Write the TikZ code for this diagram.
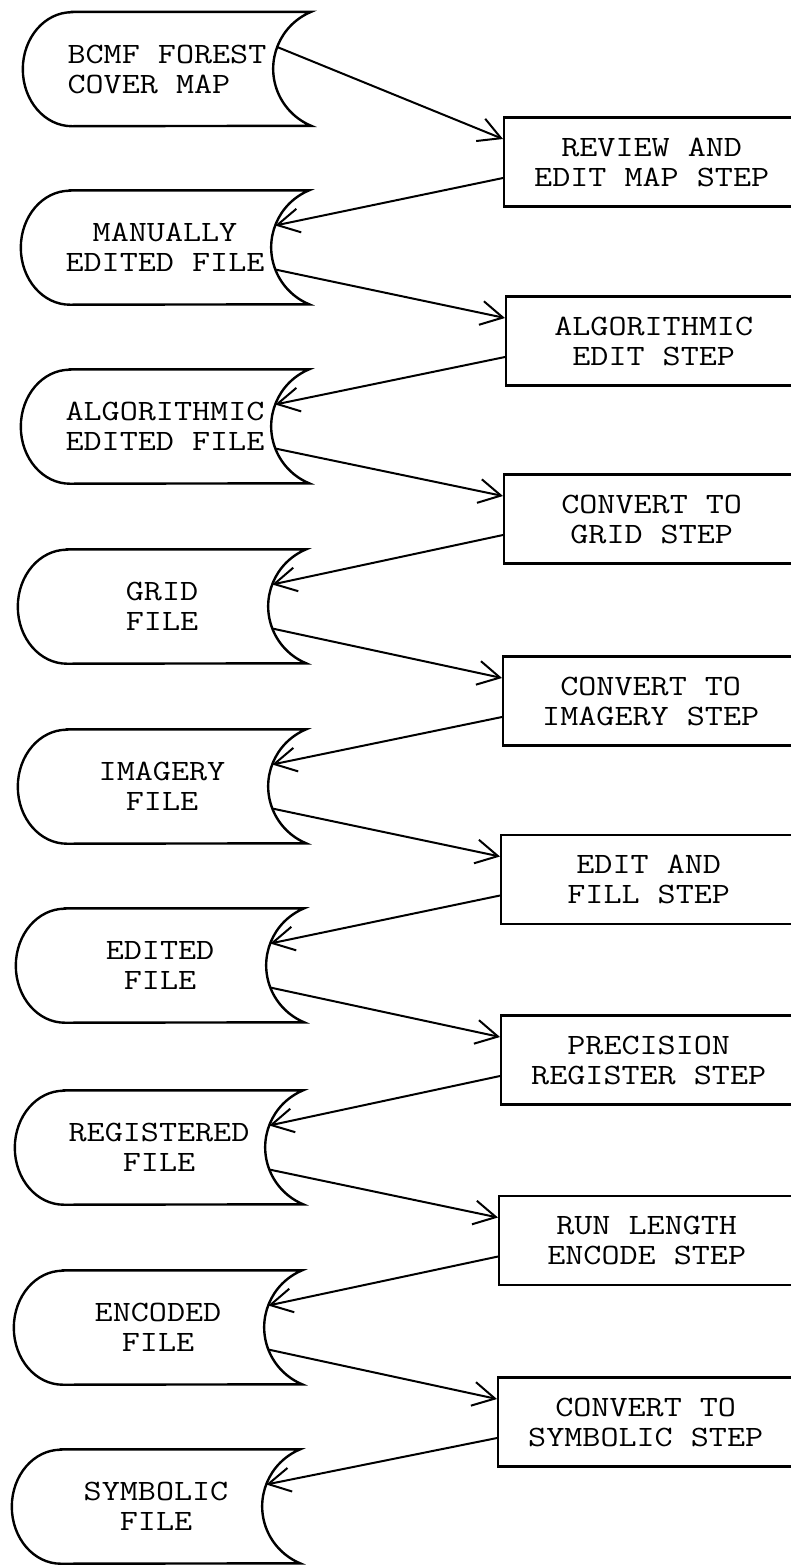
\documentclass[tikz,border=0pt]{standalone}
\usepackage{fontspec}
\newfontfamily\listfont[FakeStretch=1.19]{Latin Modern Mono}
\usetikzlibrary{arrows.meta}
\tikzset{%
  datafile/.style={
    minimum width=288pt,
    minimum height=114pt,
    inner sep=0pt,
    align=center
  },
  stepbox/.style={
    draw,
    line width=2.4pt,
    anchor=west,
    minimum width=295pt,
    minimum height=89pt,
    align=center
  },
}

\begin{document}
\begin{tikzpicture}[x=1pt, y=-1pt, > = {Straight Barb[length=22pt,width=24pt]},
  every node/.style={font=\listfont\fontsize{29.5}{30}\selectfont}]
\useasboundingbox (0,0) rectangle (791,1566);
\clip (0,0) rectangle (791,1566);

% files
\node[datafile] (f1) at (167,69) {BCMF FOREST\\COVER MAP\hphantom{ST}};
\node[datafile] (f2) at (165,247.5) {MANUALLY\\EDITED FILE};
\node[datafile] (f3) at (165,426.5) {ALGORITHMIC\\EDITED FILE};
\node[datafile] (f4) at (162,606.5) {GRID\\FILE};
\node[datafile] (f5) at (162,786.5) {IMAGERY\\FILE};
\node[datafile] (f6) at (160,965.5) {EDITED\\FILE};
\node[datafile] (f7) at (159,1147.5) {REGISTERED\\FILE};
\node[datafile] (f8) at (158,1327.5) {ENCODED\\FILE};
\node[datafile] (f9) at (156,1506.5) {SYMBOLIC\\FILE};

% steps
\node[stepbox] (s1) at (503,162) {REVIEW AND\\EDIT MAP STEP};
\node[stepbox] (s2) at (505,341) {ALGORITHMIC\\EDIT STEP};
\node[stepbox] (s3) at (503,519) {CONVERT TO\\GRID STEP};
\node[stepbox] (s4) at (502,701) {CONVERT TO\\IMAGERY STEP};
\node[stepbox] (s5) at (500,879.5) {EDIT AND\\FILL STEP};
\node[stepbox] (s6) at (500,1060) {PRECISION\\REGISTER STEP};
\node[stepbox] (s7) at (498,1240.5) {RUN LENGTH\\ENCODE STEP};
\node[stepbox] (s8) at (497,1422) {CONVERT TO\\SYMBOLIC STEP};

\foreach \i in {1,...,9} {
  \draw[line width=2.4pt] ([xshift=49pt]f\i.north west) -- (f\i.north east)
    arc[start angle=112.6, end angle=247.4, radius=61.75pt]
    -- ([xshift=49pt]f\i.south west)
    arc[start angle=270, end angle=90, x radius=49pt, y radius=57pt] -- cycle;
  \coordinate (f\i-a) at ([xshift=-34pt,yshift=22pt]f\i.east);
  \coordinate (f\i-b) at ([xshift=-34pt,yshift=-22pt]f\i.east);
}
\foreach \i in {1,...,8} {
  \coordinate (s\i-a) at ([yshift=23pt]s\i.west);
  \coordinate (s\i-b) at ([yshift=-16pt]s\i.west);
}

% arrows
\draw[->, line width=2pt] (f1-a) -- (s1-a);
\foreach \i [evaluate=\i as \j using int(\i+1)] in {1,...,8}
  \draw[->, line width=2pt] (s\i-b) -- (f\j-a);
\foreach \i in {2,...,8}
  \draw[->, line width=2pt] (f\i-b) -- (s\i-a);
\end{tikzpicture}
\end{document}
